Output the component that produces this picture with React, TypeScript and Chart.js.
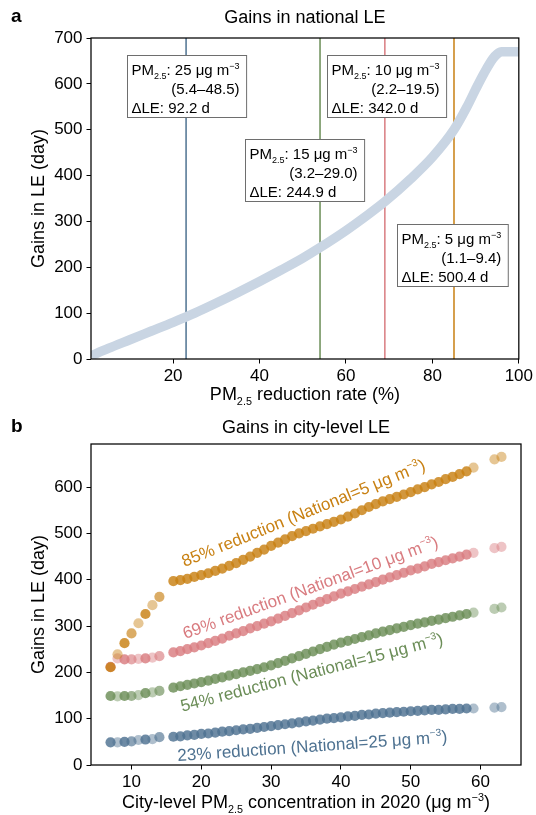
import React, { useEffect, useRef } from 'react';
import { Chart, registerables } from 'chart.js';

Chart.register(...registerables);

const FONT = '"Liberation Sans", Arial, Helvetica, sans-serif';

// ---------- Panel a: national LE gains ----------
const reductionRate = [1, 5, 10, 15, 20, 23, 25, 30, 35, 40, 45, 50, 54, 60, 65, 69, 75, 80, 85, 88, 90, 92, 94, 95, 96, 100];
const nationalGain = [7, 23, 42, 61, 80, 92, 100, 122, 145, 169, 194, 220, 243, 280, 314, 343, 393, 440, 500, 550, 588, 624, 655, 665, 670, 670];

const targetPM = [25, 10, 15, 5];
const targetRange = ['5.4–48.5', '2.2–19.5', '3.2–29.0', '1.1–9.4'];
const targetGain = ['92.2', '342.0', '244.9', '500.4'];
const targetRate = [23, 69, 54, 85];

const xTicksA = [20, 40, 60, 80, 100];
const yTicksA = [0, 100, 200, 300, 400, 500, 600, 700];

// ---------- Panel b: city-level LE gains ----------
const cityPM = [7, 8, 9, 10, 11, 12, 13, 14, 16, 17, 18, 19, 20, 21, 22, 23, 24, 25, 26, 27, 28, 29, 30, 31, 32, 33, 34, 35, 36, 37, 38, 39, 40, 41, 42, 43, 44, 45, 46, 47, 48, 49, 50, 51, 52, 53, 54, 55, 56, 57, 58, 59, 62, 63];
const cityCount = [3, 1, 3, 2, 1, 3, 1, 2, 3, 3, 3, 3, 3, 3, 3, 3, 3, 3, 3, 3, 3, 3, 3, 3, 3, 3, 3, 3, 3, 3, 3, 3, 3, 3, 3, 3, 3, 3, 3, 3, 3, 3, 3, 3, 3, 3, 3, 3, 3, 3, 3, 1, 1, 1];
const gain85 = [211, 239, 263, 284, 306, 326, 345, 363, 397, 399, 402, 406, 410, 414, 419, 424, 430, 436, 443, 450, 458, 465, 473, 480, 487, 494, 500, 505, 510, 515, 520, 525, 530, 536, 543, 550, 557, 563, 569, 574, 579, 584, 589, 595, 600, 606, 611, 617, 622, 628, 634, 642, 660, 665];
const gain69 = [212, 230, 228, 228, 229, 230, 232, 235, 243, 246, 250, 254, 258, 263, 268, 273, 279, 284, 289, 295, 300, 305, 310, 316, 322, 328, 334, 340, 346, 352, 358, 364, 370, 375, 380, 385, 390, 395, 400, 405, 410, 415, 420, 424, 429, 434, 438, 442, 446, 450, 454, 458, 468, 471];
const gain54 = [149, 148, 149, 149, 151, 155, 157, 160, 167, 170, 173, 176, 179, 182, 186, 189, 193, 196, 200, 203, 207, 211, 215, 220, 225, 230, 235, 240, 245, 250, 255, 260, 264, 268, 272, 276, 280, 284, 288, 291, 295, 298, 302, 305, 308, 311, 314, 317, 320, 323, 326, 329, 337, 340];
const gain23 = [49, 49, 50, 51, 54, 55, 56, 60, 61, 62, 64, 65, 67, 68, 70, 72, 73, 75, 77, 78, 80, 82, 84, 86, 88, 90, 92, 94, 96, 98, 100, 101, 103, 105, 106, 108, 109, 111, 112, 113, 114, 115, 116, 117, 118, 119, 119, 120, 121, 121, 122, 122, 124, 125];

const scenarioRate = [85, 69, 54, 23];
const scenarioNational = [5, 10, 15, 25];

const xTicksB = [10, 20, 30, 40, 50, 60];
const yTicksB = [0, 100, 200, 300, 400, 500, 600];

// ---------- styles ----------
const RGB = {
  blue: [78, 114, 145],
  green: [107, 141, 87],
  pink: [217, 124, 128],
  orange: [200, 128, 18],
};
const rgba = (c: number[], a = 1) => `rgba(${c[0]},${c[1]},${c[2]},${a})`;
const lineColorsA = [RGB.blue, RGB.pink, RGB.green, RGB.orange];
const seriesColorsB = [RGB.orange, RGB.pink, RGB.green, RGB.blue];
const countAlpha: Record<number, number> = { 1: 0.45, 2: 0.65, 3: 0.82 };

// box anchors (data coordinates of top-left corner), layout only
const boxAnchors = [[9.4, 663], [55.6, 663], [36.7, 480], [71.9, 294]];
// rotated label placements (data coords of centre) and angle in degrees
const labelAnchors = [[34.6, 545, 22], [35.6, 384, 20], [35.8, 201, 14.5], [35.9, 42, 4]];

type Seg = { t: string; k?: 'sub' | 'sup' };

function segFont(size: number, k?: string, bold = false) {
  const s = k ? size * 0.6 : size;
  return `${bold ? 'bold ' : ''}${s}px ${FONT}`;
}
function measureRich(ctx: CanvasRenderingContext2D, segs: Seg[], size: number) {
  let w = 0;
  for (const s of segs) {
    ctx.font = segFont(size, s.k);
    w += ctx.measureText(s.t).width;
  }
  return w;
}
function drawRich(
  ctx: CanvasRenderingContext2D,
  segs: Seg[],
  x: number,
  y: number,
  size: number,
  color: string,
  align: 'left' | 'center' | 'right' = 'left',
  rot = 0,
  middle = false
) {
  ctx.save();
  ctx.translate(x, y);
  ctx.rotate(rot);
  ctx.fillStyle = color;
  ctx.textBaseline = 'alphabetic';
  ctx.textAlign = 'left';
  const w = measureRich(ctx, segs, size);
  let cx = align === 'left' ? 0 : align === 'center' ? -w / 2 : -w;
  const base = middle ? size * 0.36 : 0;
  for (const s of segs) {
    ctx.font = segFont(size, s.k);
    const dy = s.k === 'sub' ? size * 0.27 : s.k === 'sup' ? -size * 0.42 : 0;
    ctx.fillText(s.t, cx, base + dy);
    cx += ctx.measureText(s.t).width;
  }
  ctx.restore();
}

function frame(chart: any) {
  const { ctx, chartArea: a } = chart;
  ctx.save();
  ctx.strokeStyle = '#000';
  ctx.lineWidth = 1.25;
  ctx.strokeRect(a.left, a.top, a.right - a.left, a.bottom - a.top);
  ctx.restore();
}

function axisOpts(min: number, max: number, ticks: number[], isX: boolean, size: number) {
  return {
    type: 'linear' as const,
    min,
    max,
    afterBuildTicks: (s: any) => {
      s.ticks = ticks.map((v) => ({ value: v }));
    },
    afterFit: (s: any) => {
      if (isX) s.height = size;
      else s.width = size;
    },
    ticks: {
      font: { size: 17, family: FONT },
      color: '#000',
      padding: isX ? 3 : 4,
      maxRotation: 0,
      minRotation: 0,
      callback: (v: any) => String(v),
    },
    grid: { drawOnChartArea: false, drawTicks: true, tickLength: 4.5, color: '#000', lineWidth: 1 },
    border: { display: false },
  };
}

function PanelA() {
  const ref = useRef<HTMLCanvasElement>(null);
  useEffect(() => {
    const plugin = {
      id: 'annA',
      afterDatasetsDraw(chart: any) {
        const { ctx, scales, chartArea: a } = chart;
        frame(chart);
        for (let i = 0; i < targetPM.length; i++) {
          const bx = scales.x.getPixelForValue(boxAnchors[i][0]);
          const by = scales.y.getPixelForValue(boxAnchors[i][1]);
          const l1: Seg[] = [{ t: 'PM' }, { t: '2.5', k: 'sub' }, { t: `: ${targetPM[i]} μg m` }, { t: '−3', k: 'sup' }];
          const w1 = measureRich(ctx, l1, 15);
          const padL = 4, padR = 7;
          const bw = w1 + padL + padR, bh = 62;
          const x0 = Math.round(bx) + 0.5, y0 = Math.round(by) + 0.5;
          ctx.save();
          ctx.fillStyle = '#fff';
          ctx.fillRect(x0, y0, bw, bh);
          ctx.strokeStyle = '#6e6e6e';
          ctx.lineWidth = 1;
          ctx.strokeRect(x0, y0, bw, bh);
          ctx.restore();
          drawRich(ctx, l1, x0 + padL, y0 + 19.5, 15, '#000', 'left');
          drawRich(ctx, [{ t: `(${targetRange[i]})` }], x0 + padL + w1, y0 + 38.5, 15, '#000', 'right');
          drawRich(ctx, [{ t: `ΔLE: ${targetGain[i]} d` }], x0 + padL, y0 + 57, 15, '#000', 'left');
        }
        const cxm = (a.left + a.right) / 2;
        drawRich(ctx, [{ t: 'Gains in national LE' }], cxm, 17, 18, '#000', 'center', 0, true);
        ctx.save();
        ctx.font = `bold 19px ${FONT}`;
        ctx.fillStyle = '#000';
        ctx.textBaseline = 'middle';
        ctx.fillText('a', 11, 17);
        ctx.restore();
        drawRich(ctx, [{ t: 'PM' }, { t: '2.5', k: 'sub' }, { t: ' reduction rate (%)' }], cxm, 394, 18, '#000', 'center', 0, true);
        drawRich(ctx, [{ t: 'Gains in LE (day)' }], 38, (a.top + a.bottom) / 2, 18, '#000', 'center', -Math.PI / 2, true);
      },
    };
    const datasets: any[] = [
      {
        data: reductionRate.map((x, i) => ({ x, y: nationalGain[i] })),
        showLine: true,
        borderColor: 'rgb(201,213,227)',
        borderWidth: 9.5,
        pointRadius: 0,
        cubicInterpolationMode: 'monotone',
        clip: 0,
        borderCapStyle: 'butt',
      },
      ...targetRate.map((r, i) => ({
        data: [{ x: r, y: 0 }, { x: r, y: 700 }],
        showLine: true,
        borderColor: rgba(lineColorsA[i]),
        borderWidth: 1.5,
        pointRadius: 0,
        clip: 0,
      })),
    ];
    const chart = new Chart(ref.current!, {
      type: 'scatter',
      data: { datasets },
      options: {
        animation: false,
        responsive: false,
        devicePixelRatio: 1,
        layout: { padding: { left: 0, right: 15, top: 38, bottom: 0 } },
        plugins: { legend: { display: false }, tooltip: { enabled: false } },
        scales: {
          x: axisOpts(1, 100, xTicksA, true, 51),
          y: axisOpts(0, 700, yTicksA, false, 91),
        },
      } as any,
      plugins: [plugin],
    });
    return () => chart.destroy();
  }, []);
  return <canvas ref={ref} width={536} height={410} style={{ display: 'block', width: 536, height: 410 }} />;
}

function PanelB() {
  const ref = useRef<HTMLCanvasElement>(null);
  useEffect(() => {
    const series = [gain85, gain69, gain54, gain23];
    const plugin = {
      id: 'annB',
      afterDatasetsDraw(chart: any) {
        const { ctx, scales, chartArea: a } = chart;
        frame(chart);
        for (let i = 0; i < series.length; i++) {
          const [lx, ly, ang] = labelAnchors[i];
          const px = scales.x.getPixelForValue(lx);
          const py = scales.y.getPixelForValue(ly);
          drawRich(
            ctx,
            [{ t: `${scenarioRate[i]}% reduction (National=${scenarioNational[i]} μg m` }, { t: '−3', k: 'sup' }, { t: ')' }],
            px,
            py,
            17,
            rgba(seriesColorsB[i]),
            'center',
            (-ang * Math.PI) / 180,
            true
          );
        }
        const cxm = (a.left + a.right) / 2;
        drawRich(ctx, [{ t: 'Gains in city-level LE' }], cxm, 17, 18, '#000', 'center', 0, true);
        ctx.save();
        ctx.font = `bold 19px ${FONT}`;
        ctx.fillStyle = '#000';
        ctx.textBaseline = 'middle';
        ctx.fillText('b', 11, 17);
        ctx.restore();
        drawRich(
          ctx,
          [{ t: 'City-level PM' }, { t: '2.5', k: 'sub' }, { t: ' concentration in 2020 (μg m' }, { t: '−3', k: 'sup' }, { t: ')' }],
          cxm,
          392,
          18,
          '#000',
          'center',
          0,
          true
        );
        drawRich(ctx, [{ t: 'Gains in LE (day)' }], 38, (a.top + a.bottom) / 2, 18, '#000', 'center', -Math.PI / 2, true);
      },
    };
    const datasets = series.map((vals, i) => ({
      data: cityPM.map((x, j) => ({ x, y: vals[j] })),
      pointRadius: 5.1,
      pointBorderWidth: 0,
      pointBackgroundColor: cityCount.map((c) => rgba(seriesColorsB[i], countAlpha[c])),
      showLine: false,
    }));
    const chart = new Chart(ref.current!, {
      type: 'scatter',
      data: { datasets },
      options: {
        animation: false,
        responsive: false,
        devicePixelRatio: 1,
        layout: { padding: { left: 0, right: 15, top: 34, bottom: 0 } },
        plugins: { legend: { display: false }, tooltip: { enabled: false } },
        scales: {
          x: axisOpts(4.2, 65.8, xTicksB, true, 50),
          y: axisOpts(0, 693, yTicksB, false, 91),
        },
      } as any,
      plugins: [plugin],
    });
    return () => chart.destroy();
  }, []);
  return <canvas ref={ref} width={536} height={405} style={{ display: 'block', width: 536, height: 405 }} />;
}

export default function App() {
  return (
    <div style={{ position: 'absolute', left: 0, top: 0, width: 536, height: 815, background: '#fff' }}>
      <PanelA />
      <PanelB />
    </div>
  );
}
